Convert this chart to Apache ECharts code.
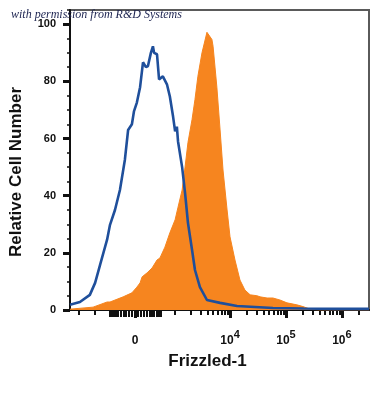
<!DOCTYPE html>
<html>
<head>
<meta charset="utf-8">
<script src="https://cdn.jsdelivr.net/npm/echarts@6/dist/echarts.min.js"></script>
<style>
html,body{margin:0;padding:0;background:#fff;}
#c{width:371px;height:395px;}
</style>
</head>
<body>
<div id="c"></div>
<script>
// ---- data (x in display channel units 0..1024, y = relative cell number) ----
const isotypeChannel = [0,34,68,86,103,127,137,154,171,188,199,212,219,229,240,250,260,267,277,284,288,298,305,318,332,342,353,360,366,370,384,394,404,418,428,445,469,514,572,695,800,900,1024];
const isotypeCount   = [1.8,2.8,5.3,9.5,15.8,24.6,29.8,35,42,52.6,63,65,69.5,72.6,78,86.7,85,85.4,90,92.3,90,89.5,80.7,81.8,79,74.7,67.7,62.5,64.2,59,50,41,30.5,21,14,8,3.5,2.5,1.4,0.7,0.5,0.4,0.4];

const stainedChannel = [0,79,127,137,182,188,212,229,240,247,264,281,298,308,325,342,360,370,384,394,404,418,428,438,452,469,486,490,503,514,524,538,548,565,582,599,617,640,651,675,695,719,743,777,798,822,856,1024];
const stainedCount   = [0.3,1,2.8,2.8,4.6,4.5,6,8,9.5,11.6,13,14.7,17.5,18.2,22,27,31.6,36,42,50,58.6,66.7,73.7,81.8,90,97.2,94.7,92.3,78,63,49,35,25.6,17.5,10.5,7,5.3,5,4.6,4.2,4.2,3.5,2.5,1.8,1.2,0.3,0,0];

// ---- tick labels (raw fluorescence values and their labels) ----
const xLabelRaw = [0, 1e4, 1e5, 1e6];
const xLabelBase = ['0', '10', '10', '10'];
const xLabelExp  = ['', '4', '5', '6'];
const yLabelValues = [0, 20, 40, 60, 80, 100];

// ---- biexponential-like display transform (raw -> channel) ----
const CH_ZERO = 222.6, CH_PER_LN = 83.2, LIN_W = 200;
function toChannel(raw){ return CH_ZERO + CH_PER_LN * Math.asinh(raw / (2 * LIN_W)); }

const majorTicks = xLabelRaw.map(toChannel);
const minorRaw = [];
[3,4,5].forEach(n => { for (let k = 1; k <= 9; k++) minorRaw.push(k * Math.pow(10, n)); });
minorRaw.push(2e6, -1000, -2000);
const minorTicks = minorRaw.map(toChannel).filter(v => v > 0 && v < 1024);
const denseRaw = [];
for (let r = -500; r <= 500; r += 50) if (r !== 0) denseRaw.push(r);
const denseTicks = denseRaw.map(toChannel);

const yMinor = [];
for (let v = 5; v <= 105; v += 5) if (v % 20 !== 0) yMinor.push(v);

const FONT = 'Liberation Sans, Arial, sans-serif';

function xAxisBase(extra){
  return Object.assign({
    type: 'value', min: 0, max: 1024, gridIndex: 0, position: 'bottom', offset: 0,
    splitLine: {show: false},
    axisLine: {show: false},
    axisLabel: {show: false},
    axisTick: {show: false}
  }, extra);
}

const chart = echarts.init(document.getElementById('c'), null, {renderer: 'canvas'});
chart.setOption({
  animation: false,
  backgroundColor: '#fff',
  grid: {left: 70, right: 2, top: 10, bottom: 85, containLabel: false, outerBoundsMode: 'none',
         show: true, borderColor: '#5a5a5a', borderWidth: 2, backgroundColor: 'transparent'},
  xAxis: [
    xAxisBase({
      name: 'Frizzled-1', nameLocation: 'middle', nameGap: 43,
      nameTextStyle: {fontFamily: FONT, fontWeight: 'bold', fontSize: 17, color: '#111', padding: [0, 24, 0, 0]},
      axisLine: {show: true, onZero: false, lineStyle: {color: '#111', width: 2}},
      axisTick: {show: true, customValues: majorTicks, length: 8, lineStyle: {color: '#111', width: 3}},
      axisLabel: {
        show: true, customValues: majorTicks, margin: 19,
        formatter: function(v){
          let best = 0, d = 1e9;
          majorTicks.forEach((t, i) => { if (Math.abs(t - v) < d) { d = Math.abs(t - v); best = i; } });
          return xLabelExp[best] ? '{b|' + xLabelBase[best] + '}{s|' + xLabelExp[best] + '}' : '{b|' + xLabelBase[best] + '}';
        },
        rich: {
          b: {fontFamily: FONT, fontWeight: 'bold', fontSize: 12, color: '#111', lineHeight: 18, verticalAlign: 'bottom'},
          s: {fontFamily: FONT, fontWeight: 'bold', fontSize: 11, color: '#111', lineHeight: 18, verticalAlign: 'top'}
        }
      }
    }),
    xAxisBase({axisTick: {show: true, customValues: minorTicks, length: 5, lineStyle: {color: '#111', width: 2}}}),
    xAxisBase({axisTick: {show: true, customValues: denseTicks, length: 7, lineStyle: {color: '#111', width: 2}}})
  ],
  yAxis: [
    {
      type: 'value', min: 0, max: 105, position: 'left', offset: 0,
      name: 'Relative Cell Number', nameLocation: 'middle', nameGap: 45,
      nameTextStyle: {fontFamily: FONT, fontWeight: 'bold', fontSize: 17, color: '#111', padding: [0, 24, 0, 0]},
      splitLine: {show: false},
      axisLine: {show: true, onZero: false, lineStyle: {color: '#111', width: 2}},
      axisTick: {show: true, customValues: yLabelValues, length: 7, lineStyle: {color: '#111', width: 3}},
      axisLabel: {show: true, customValues: yLabelValues, margin: 14, fontFamily: FONT, fontWeight: 'bold', fontSize: 11, color: '#111'}
    },
    {
      type: 'value', min: 0, max: 105, position: 'left', offset: 0,
      splitLine: {show: false}, axisLine: {show: false}, axisLabel: {show: false},
      axisTick: {show: true, customValues: yMinor, length: 3, lineStyle: {color: '#111', width: 1.5}}
    }
  ],
  series: [
    {
      type: 'line', name: 'Frizzled-1', xAxisIndex: 0, yAxisIndex: 0,
      data: stainedChannel.map((x, i) => [x, stainedCount[i]]),
      showSymbol: false, smooth: false, z: 2,
      lineStyle: {width: 1, color: '#f6851f'},
      areaStyle: {color: '#f6851f', opacity: 1}
    },
    {
      type: 'line', name: 'Isotype', xAxisIndex: 0, yAxisIndex: 0,
      data: isotypeChannel.map((x, i) => [x, isotypeCount[i]]),
      showSymbol: false, smooth: false, z: 3,
      lineStyle: {width: 2.6, color: '#1f4f9b'}
    }
  ],
  graphic: [
    {
      type: 'text', left: 11, top: 9, z: 10,
      style: {text: 'with permission from R&D Systems', font: 'italic 12px "Liberation Serif", "DejaVu Serif", serif', fill: '#1c2350'}
    }
  ]
});
</script>
</body>
</html>
